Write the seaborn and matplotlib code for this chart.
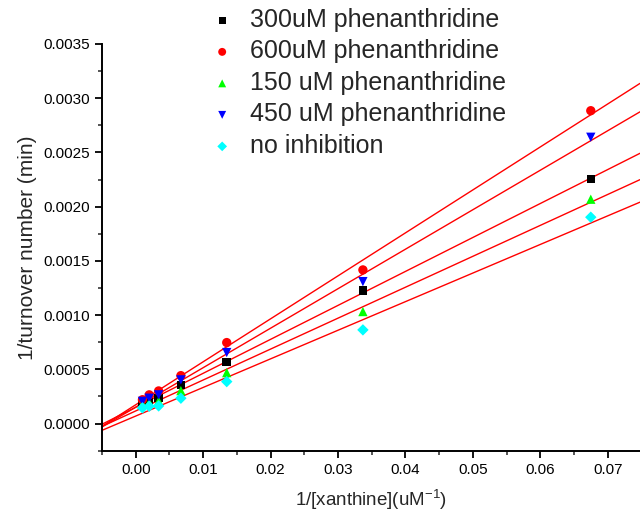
import numpy as np
import pandas as pd
import matplotlib
matplotlib.use("Agg")
import matplotlib.pyplot as plt
import seaborn as sns
from matplotlib.ticker import MultipleLocator, FormatStrFormatter

sns.set_style("ticks")
plt.rcParams['font.family'] = ['Liberation Sans', 'DejaVu Sans']

x_vals = [0.0010, 0.0020, 0.0034, 0.0067, 0.0135, 0.0337, 0.0675]

series_names = ["300uM phenanthridine", "600uM phenanthridine", "150 uM phenanthridine",
                "450 uM phenanthridine", "no inhibition"]
y_300 = [0.000200, 0.000215, 0.000234, 0.000357, 0.000566, 0.001226, 0.002256]
y_600 = [0.000220, 0.000265, 0.000301, 0.000442, 0.000747, 0.001417, 0.002885]
y_150 = [0.000180, 0.000195, 0.000209, 0.000304, 0.000470, 0.001033, 0.002069]
y_450 = [0.000205, 0.000234, 0.000265, 0.000403, 0.000655, 0.001309, 0.002640]
y_none = [0.000145, 0.000160, 0.000163, 0.000234, 0.000387, 0.000864, 0.001903]

colors = ["#000000", "#FF0000", "#00FF00", "#0000FF", "#00FFFF"]
markers = ["s", "o", "^", "v", "D"]
sizes = [38, 45, 45, 45, 34]

ys = [y_300, y_600, y_150, y_450, y_none]
df = pd.DataFrame({
    "x": np.tile(x_vals, len(series_names)),
    "y": np.concatenate(ys),
    "series": np.repeat(series_names, len(x_vals)),
})

fig = plt.figure(figsize=(6.4, 5.17), dpi=100)
ax = fig.add_axes([102/640, 1-450.7/517, (640-102)/640, (450.7-44)/517])

xlim = (-0.005, 0.0748)
ax.set_xlim(*xlim)
ax.set_ylim(-0.00025, 0.0035)

# fitted lines
xx = np.array(xlim)
for name, y in zip(series_names, ys):
    k, b = np.polyfit(x_vals, y, 1)
    ax.plot(xx, k*xx + b, color="#FF0000", lw=1.0, zorder=2, clip_on=False)

for name, c, m, s in zip(series_names, colors, markers, sizes):
    sub = df[df["series"] == name]
    sns.scatterplot(data=sub, x="x", y="y", ax=ax, color=c, marker=m, s=s,
                    edgecolor="none", linewidth=0, label=name, zorder=3)

for sp in ["top", "right"]:
    ax.spines[sp].set_visible(False)
for sp in ["left", "bottom"]:
    ax.spines[sp].set_linewidth(1.4)
    ax.spines[sp].set_color("black")

ax.xaxis.set_major_locator(MultipleLocator(0.01))
ax.xaxis.set_minor_locator(MultipleLocator(0.005))
ax.yaxis.set_major_locator(MultipleLocator(0.0005))
ax.yaxis.set_minor_locator(MultipleLocator(0.00025))
ax.xaxis.set_major_formatter(FormatStrFormatter("%.2f"))
ax.yaxis.set_major_formatter(FormatStrFormatter("%.4f"))
ax.tick_params(which="major", direction="out", length=5, width=1.3, labelsize=11, colors="black")
ax.tick_params(which="minor", direction="out", length=3, width=1.1)

ax.set_xlabel("1/[xanthine](uM$^{\\mathregular{-1}}$)", fontsize=13.5, labelpad=8)
ax.set_ylabel("1/turnover number (min)", fontsize=15, labelpad=5)

handles, labels = ax.get_legend_handles_labels()
ax.legend_.remove()
fig.legend(handles, labels, loc="upper left", bbox_to_anchor=(0.312, 1.004),
           frameon=False, fontsize=18, markerscale=0.85, handletextpad=0.6,
           labelspacing=0.3, handlelength=1.0, borderaxespad=0.0)

fig.savefig("out.png", dpi=100)
